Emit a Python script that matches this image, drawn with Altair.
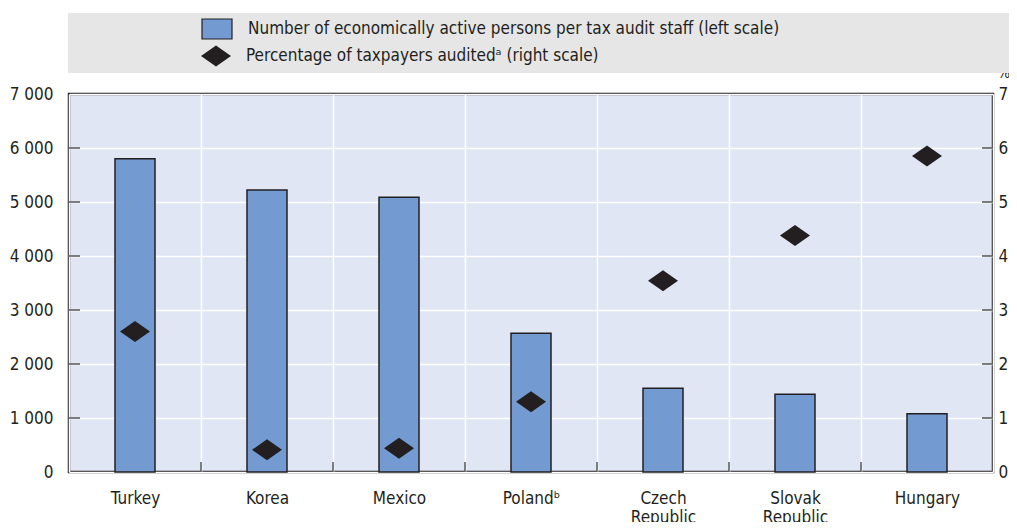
import altair as alt
import pandas as pd

countries = ["Turkey", "Korea", "Mexico", "Poland", "Czech Republic", "Slovak Republic", "Hungary"]
labels = ["Turkey", "Korea", "Mexico", "Poland\u1d47", "Czech|Republic", "Slovak|Republic", "Hungary"]
persons = [5800, 5220, 5090, 2570, 1550, 1440, 1080]
pct_audited = [2.60, 0.41, 0.44, 1.30, 3.54, 4.38, 5.85]
left_ticks = [1000, 2000, 3000, 4000, 5000, 6000]
right_ticks = [1, 2, 3, 4, 5, 6]

bar_name = "Number of economically active persons per tax audit staff (left scale)"
pt_name = "Percentage of taxpayers audited\u1d43 (right scale)"

FONT = "DejaVu Sans Condensed, Liberation Sans, sans-serif"
W, H = 924, 378
BAR = "#739bd2"
DARK = "#231f20"
FS = 17

df = pd.DataFrame({"country": labels, "persons": persons, "pct": pct_audited,
                   "s1": bar_name, "s2": pt_name})
ticks_df = pd.DataFrame({"country": labels[1:]})
lt_df = pd.DataFrame({"persons": left_ticks})
rt_df = pd.DataFrame({"pct": right_ticks})

xaxis = alt.Axis(title=None, ticks=False, domain=False, grid=True, tickBand="extent",
                 gridColor="white", gridWidth=1.5, labelAngle=0, labelPadding=18,
                 labelFont=FONT, labelFontSize=FS, labelColor=DARK, labelLineHeight=19,
                 labelExpr="isValid(datum.value) ? split(datum.value, '|') : ''")
yaxis_l = alt.Axis(title=None, orient="left", values=[0, 1000, 2000, 3000, 4000, 5000, 6000, 7000],
                   ticks=False, domain=False, grid=True, gridColor="white", gridWidth=1.5,
                   labelPadding=16, labelFont=FONT, labelFontSize=FS, labelColor=DARK,
                   labelExpr="replace(format(datum.value, ','), ',', ' ')")
yaxis_r = alt.Axis(title="%", orient="right", values=[0, 1, 2, 3, 4, 5, 6, 7], ticks=False,
                   domain=False, grid=False, labelPadding=5, labelFont=FONT, labelFontSize=FS,
                   labelColor=DARK, titleFont=FONT, titleFontSize=15, titleFontWeight="normal",
                   titleColor=DARK, titleAngle=0, titleX=4, titleY=-22, titleAlign="left",
                   titleBaseline="middle")

xscale = alt.Scale(domain=labels, paddingInner=0, paddingOuter=0)
ymain = alt.Scale(domain=[0, 7000], nice=False)
yright = alt.Scale(domain=[0, 7], nice=False)

bg = alt.Chart(pd.DataFrame({"a": [0]})).mark_rect(color="#e6e6e7").encode(
    x=alt.value(-1), x2=alt.value(948), y=alt.value(-81), y2=alt.value(-21))

bars = alt.Chart(df).mark_bar(size=40, stroke=DARK, strokeWidth=1.5).encode(
    x=alt.X("country:N", scale=xscale, axis=xaxis),
    y=alt.Y("persons:Q", scale=ymain, axis=yaxis_l),
    color=alt.Color("s1:N", scale=alt.Scale(domain=[bar_name], range=[BAR]),
                    legend=alt.Legend(title=None, orient="none", legendX=132, legendY=-81,
                                      symbolType="M-1,-0.667L1,-0.667L1,0.667L-1,0.667Z",
                                      symbolSize=900, symbolStrokeColor=DARK, symbolStrokeWidth=1.2,
                                      labelFont=FONT, labelFontSize=FS, labelColor=DARK,
                                      labelLimit=0, labelOffset=15, padding=0)),
)

lticks = alt.Chart(lt_df).mark_rule(color="#555555", strokeWidth=1.5).encode(
    y=alt.Y("persons:Q", scale=ymain, axis=yaxis_l), x=alt.value(0), x2=alt.value(11))

xticks = alt.Chart(ticks_df).mark_rule(color="#555555", strokeWidth=1.5).encode(
    x=alt.X("country:N", scale=xscale, bandPosition=0, axis=xaxis), y=alt.value(H - 10), y2=alt.value(H))

right = alt.Chart(df).mark_point(filled=True, opacity=1, size=900, color=DARK,
                                 shape="M-1,0L0,-0.7L1,0L0,0.7Z").encode(
    x=alt.X("country:N", scale=xscale, axis=xaxis),
    y=alt.Y("pct:Q", scale=yright, axis=yaxis_r),
    shape=alt.Shape("s2:N", scale=alt.Scale(domain=[pt_name], range=["M-1,0L0,-0.7L1,0L0,0.7Z"]),
                    legend=alt.Legend(title=None, orient="none", legendX=132, legendY=-53,
                                      symbolSize=900, symbolFillColor=DARK, symbolStrokeWidth=0,
                                      labelFont=FONT, labelFontSize=FS, labelColor=DARK,
                                      labelLimit=0, labelOffset=15, padding=0)),
)

rticks = alt.Chart(rt_df).mark_rule(color="#555555", strokeWidth=1.5).encode(
    y=alt.Y("pct:Q", scale=yright, axis=yaxis_r), x=alt.value(W - 11), x2=alt.value(W))

left_layer = alt.layer(bg, bars, lticks, xticks)
right_layer = alt.layer(right, rticks)

chart = alt.layer(left_layer, right_layer).resolve_scale(y="independent", color="independent",
                                                         shape="independent").properties(
    width=W, height=H, autosize=alt.AutoSizeParams(type="none"),
    padding={"left": 61, "top": 86, "right": 16, "bottom": 50},
    background="white",
).configure_view(fill="#e0e6f4", stroke=DARK, strokeWidth=2.5)

chart.save("out.html", embed_options={"renderer": "svg", "actions": False})
